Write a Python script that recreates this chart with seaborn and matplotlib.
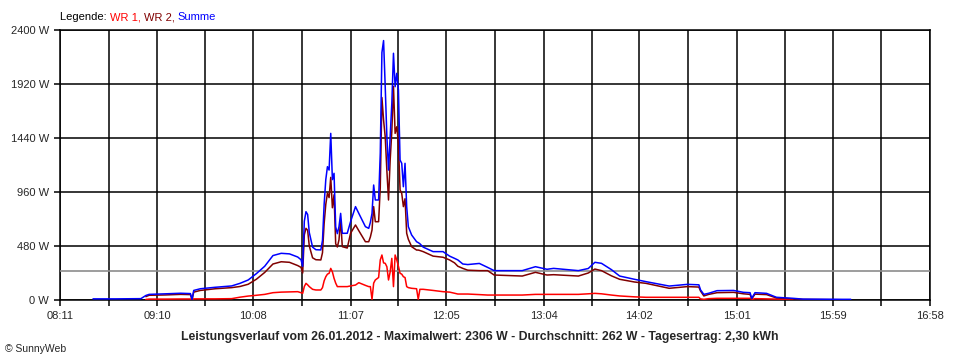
import numpy as np
import pandas as pd
import matplotlib
matplotlib.use("Agg")
import matplotlib.pyplot as plt
import seaborn as sns

nan = np.nan

zeit = ["08:31", "08:45", "09:00", "09:03", "09:05", "09:15", "09:24", "09:30", "09:31", "09:32",
        "09:36", "09:45", "09:55", "10:00", "10:05", "10:10", "10:15", "10:20", "10:25", "10:30",
        "10:35", "10:37", "10:38", "10:39", "10:40", "10:41", "10:42", "10:44", "10:46", "10:49",
        "10:50", "10:51", "10:52", "10:53", "10:54", "10:55", "10:56", "10:57", "10:58", "10:59",
        "11:00", "11:01", "11:02", "11:05", "11:07", "11:10", "11:12", "11:16", "11:18", "11:19",
        "11:20", "11:21", "11:22", "11:24", "11:25", "11:26", "11:27", "11:28", "11:29", "11:30",
        "11:31", "11:32", "11:33", "11:34", "11:35", "11:36", "11:37", "11:38", "11:39", "11:40",
        "11:41", "11:42", "11:44", "11:47", "11:48", "11:49", "11:51", "11:57", "12:03", "12:07",
        "12:10", "12:12", "12:15", "12:18", "12:25", "12:30", "12:34", "12:51", "12:59", "13:06",
        "13:10", "13:25", "13:31", "13:35", "13:39", "13:45", "13:50", "13:59", "14:06", "14:20",
        "14:31", "14:38", "14:39", "14:41", "14:44", "14:49", "14:59", "15:05", "15:09", "15:10",
        "15:12", "15:19", "15:25", "15:35", "15:41", "16:05", "16:10"]

wr1 = [nan, nan, nan, 5, 8, 8, 9, 9, 2, 10,
       10, 10, 12, 25, 35, 42, 50, 65, 70, 72,
       74, 65, 59, 120, 148, 135, 119, 95, 89, 89,
       110, 170, 207, 230, 237, 281, 250, 193, 150, 119,
       119, 119, 119, 119, 125, 133, 154, 130, 119, 119,
       6, 150, 178, 200, 356, 400, 330, 326, 296, 178,
       250, 370, 119, 400, 356, 300, 237, 230, 207, 200,
       119, 110, 104, 100, 6, 95, 95, 85, 74, 70,
       60, 53, 53, 53, 48, 44, 44, 44, 50, 50,
       50, 50, 55, 59, 55, 44, 36, 28, 24, 24,
       24, 24, 10, 6, 12, 15, 15, 15, 15, 5,
       12, 10, 8, 5, nan, nan, nan]

wr2 = [nan, nan, nan, 30, 42, 45, 50, 48, 3, 70,
       85, 100, 110, 120, 140, 185, 245, 320, 340, 335,
       306, 290, 240, 580, 637, 620, 481, 375, 358, 356,
       420, 680, 850, 950, 910, 1090, 820, 935, 500, 471,
       535, 711, 474, 462, 593, 667, 616, 518, 518, 560,
       622, 830, 696, 696, 1000, 1800, 1600, 1450, 1150, 889,
       1244, 1500, 1900, 1481, 1540, 1392, 978, 948, 830, 900,
       593, 540, 474, 444, 444, 440, 430, 390, 380, 356,
       330, 300, 281, 265, 261, 261, 222, 213, 246, 222,
       225, 213, 240, 275, 261, 215, 184, 160, 148, 104,
       119, 115, 80, 36, 50, 65, 68, 55, 50, 10,
       52, 48, 18, 10, 5, 2, nan]

summe = [10, 10, 12, 40, 50, 55, 60, 57, 5, 85,
         100, 113, 125, 148, 178, 235, 300, 395, 415, 410,
         382, 358, 300, 700, 785, 760, 600, 470, 447, 445,
         530, 850, 1070, 1185, 1155, 1481, 1070, 1126, 650, 590,
         652, 770, 593, 593, 696, 830, 770, 652, 637, 690,
         770, 1022, 889, 889, 1304, 2200, 2306, 1896, 1452, 1155,
         1452, 1748, 2193, 1896, 2015, 1867, 1244, 1215, 1007, 1215,
         830, 652, 578, 518, 510, 500, 470, 430, 430, 390,
         370, 356, 320, 315, 325, 290, 261, 261, 296, 273,
         281, 261, 280, 335, 326, 270, 213, 184, 163, 124,
         139, 135, 90, 50, 60, 83, 85, 68, 65, 15,
         65, 59, 24, 15, 8, 6, 6]

x_labels = ["08:11", "09:10", "10:08", "11:07", "12:05", "13:04", "14:02", "15:01", "15:59", "16:58"]
y_ticks = [0, 480, 960, 1440, 1920, 2400]
durchschnitt = 262
titel = ("Leistungsverlauf vom 26.01.2012 - Maximalwert: 2306 W - Durchschnitt: 262 W"
         " - Tagesertrag: 2,30 kWh")


def minuten(t):
    h, m = t.split(":")
    return int(h) * 60 + int(m)


df = pd.DataFrame({"zeit": [minuten(t) for t in zeit],
                   "WR 1": wr1, "WR 2": wr2, "Summe": summe})

sns.set_style("white")
plt.rcParams["font.family"] = ["Liberation Sans", "DejaVu Sans"]

fig = plt.figure(figsize=(9.6, 3.6), dpi=100)
ax = fig.add_axes([60 / 960, 60 / 360, 870 / 960, 270 / 360])

farben = {"WR 1": "#ff0000", "WR 2": "#800000", "Summe": "#0000ff"}
for name in ["WR 1", "WR 2", "Summe"]:
    d = df[["zeit", name]].dropna()
    sns.lineplot(data=d, x="zeit", y=name, color=farben[name], lw=1.1,
                 errorbar=None, ax=ax, zorder=4)

ax.axhline(durchschnitt, color="#8c8c8c", lw=1.2, zorder=2)

x_pos = [minuten(t) for t in x_labels]
ax.set_xticks(x_pos)
ax.set_xticklabels(x_labels)
ax.set_xticks([(a + b) / 2 for a, b in zip(x_pos[:-1], x_pos[1:])], minor=True)
ax.set_yticks(y_ticks)
ax.set_yticklabels([f"{v} W" for v in y_ticks])
ax.set_xlim(x_pos[0], x_pos[-1])
ax.set_ylim(0, 2400)
ax.set_xlabel("")
ax.set_ylabel("")

ax.set_axisbelow(True)
ax.grid(which="both", color="black", lw=1.1)
ax.tick_params(which="both", direction="out", length=4, width=1.1, color="black",
               labelsize=8, pad=4)
ax.tick_params(axis="x", which="both", bottom=True)
ax.tick_params(axis="y", left=True)
for s in ax.spines.values():
    s.set_color("black")
    s.set_linewidth(1.1)
    s.set_zorder(1)

# Legende aus farbigen Textstuecken
t = fig.text(60 / 960, 1 - 17 / 360, "Legende: ", fontsize=8, va="center", color="black")
for txt, col in [("WR 1, ", farben["WR 1"]), ("WR 2, ", farben["WR 2"]), ("Summe", farben["Summe"])]:
    t = ax.annotate(txt, xy=(1, 0), xycoords=t, va="bottom", ha="left",
                    fontsize=8, color=col, annotation_clip=False)

fig.text(0.5, 1 - 337 / 360, titel, ha="center", va="center", fontsize=8.8, fontweight="bold")
fig.text(5 / 960, 1 - 349 / 360, "© SunnyWeb", ha="left", va="center", fontsize=7.5)

fig.savefig("out.png", dpi=100)
